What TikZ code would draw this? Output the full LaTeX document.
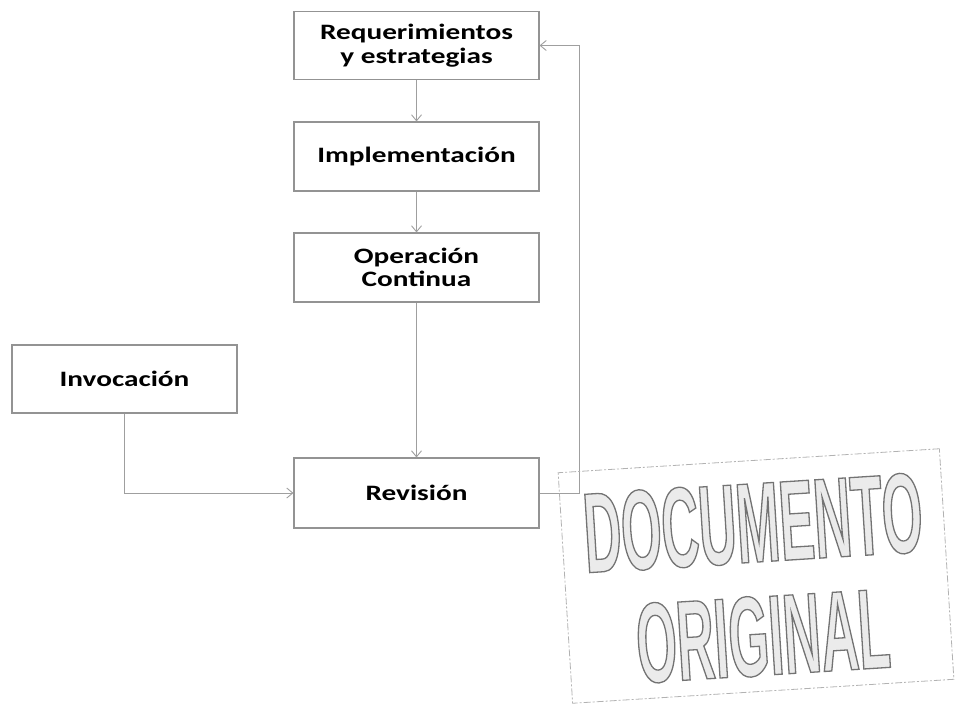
\documentclass[tikz,border=0pt]{standalone}
\usepackage{fontspec}
\setmainfont{Carlito}[FakeStretch=1.33]
\newfontfamily\stampfont{Liberation Sans}[FakeStretch=0.455]
\usetikzlibrary{arrows.meta}

% stamp lettering: light fill with a darker stroked outline
\newcommand{\hollowtext}[1]{\special{pdf:literal direct 2 Tr 1.3 w 0.92 g 0.45 G}#1\special{pdf:literal direct 0 Tr}}

\tikzset{
  stage/.style={draw=gray!85, line width=1.1pt, minimum width=245pt, minimum height=68pt,
    align=center, inner sep=0pt, text=black,
    font=\bfseries\fontsize{22}{23.5}\selectfont},
  flow/.style={draw=gray!75, line width=0.9pt, -{Straight Barb[length=6pt,width=10pt]}},
  stamptext/.style={text=gray!60, font=\stampfont\bfseries\fontsize{114}{114}\selectfont, inner sep=0pt},
}

\begin{document}
\begin{tikzpicture}[x=1pt, y=-1pt]
\useasboundingbox (0,0) rectangle (963,705);

% process stages
\node[stage] (req)  at (416.5,45.5)  {Requerimientos\\y estrategias};
\node[stage, minimum height=69pt] (impl) at (416.5,156.5) {Implementación};
\node[stage, minimum height=69pt] (oper) at (416.5,267.5) {Operación\\Continua};
\node[stage, minimum height=70pt] (rev)  at (416.5,493)   {Revisión};
\node[stage, minimum width=225pt] (inv)  at (124.5,379)   {Invocación};

% connectors
\draw[flow] (req) -- (impl);
\draw[flow] (impl) -- (oper);
\draw[flow] (oper) -- (rev);
\draw[flow] (inv.south) |- (rev.west);
\coordinate (back) at (579,493);
\draw[flow] (rev.east) -- (back) |- (req.east);

% rubber stamp
\node[draw=gray!60, line width=0.8pt, dash pattern=on 7pt off 2pt on 2pt off 2pt,
      minimum width=382pt, minimum height=231pt, rotate=3.6] (stamp) at (756,576) {};
\node[stamptext, rotate=3.6] (doc) at (753,523) {\hollowtext{DOCUMENTO}};
\node[stamptext, rotate=3.6] (ori) at (763,636) {\hollowtext{ORIGINAL}};
\end{tikzpicture}
\end{document}
